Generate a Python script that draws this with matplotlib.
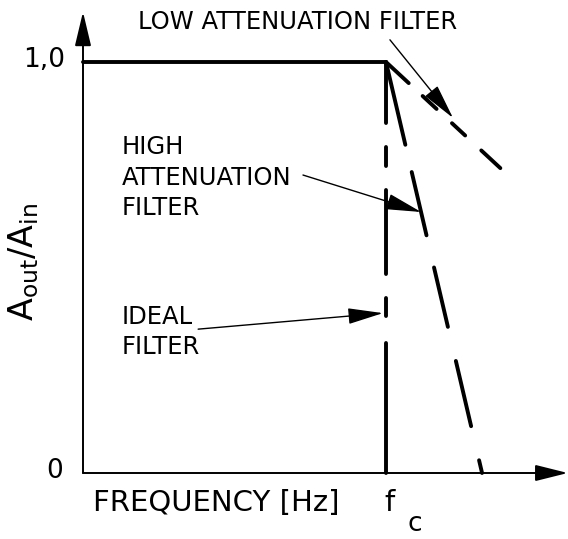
import matplotlib
matplotlib.use('Agg')
import matplotlib.pyplot as plt

plt.rcParams['font.family'] = ['DejaVu Sans']
plt.rcParams['lines.scale_dashes'] = False

# ---- data (normalised: f_c = 1, A_out/A_in = 1) ----
ideal_pass_x = [0.0, 1.0]
ideal_pass_y = [1.0, 1.0]
ideal_edge_x = [1.0, 1.0]
ideal_edge_y = [1.0, 0.0]
high_att_x = [1.0, 1.317]
high_att_y = [1.0, 0.0]
low_att_x = [1.0, 1.380]
low_att_y = [1.0, 0.740]
y_tick_values = [0.0, 1.0]
y_tick_labels = ['0', '1,0']
x_label = 'FREQUENCY [Hz]'

PX = 100 / 72.0  # pixels per point


def dash(seq_px, lw_px):
    # round caps add lw to each dash; compensate
    out = []
    for i, v in enumerate(seq_px):
        if i % 2 == 0:
            out.append(max(v - lw_px, 0.5) / PX)
        else:
            out.append((v + lw_px) / PX)
    return (0, out)


fig = plt.figure(figsize=(5.68, 5.39), dpi=100)
ax = fig.add_axes([0, 0, 1, 1])
ax.set_xlim(-83 / 303, 485 / 303)
ax.set_ylim(-66 / 411, 473 / 411)
ax.axis('off')

K = 'black'
lw = 2.8

# axes with arrows
ax.annotate('', xy=(0, 1.122), xytext=(0, 0),
            arrowprops=dict(arrowstyle='-|>,head_length=2.1,head_width=0.5',
                            mutation_scale=10, lw=1.4, color=K, shrinkA=0, shrinkB=0))
ax.annotate('', xy=(1.60, 0), xytext=(0, 0),
            arrowprops=dict(arrowstyle='-|>,head_length=2.0,head_width=0.5',
                            mutation_scale=10, lw=1.4, color=K, shrinkA=0, shrinkB=0))

# ideal filter
ax.plot(ideal_pass_x, ideal_pass_y, color=K, lw=lw, solid_capstyle='round')
ax.plot(ideal_edge_x, ideal_edge_y, color=K, lw=lw, dash_capstyle='round',
        linestyle=dash([65, 20, 23, 20, 88, 20, 22, 23, 140, 10], 4))
# high attenuation
ax.plot(high_att_x, high_att_y, color=K, lw=lw, dash_capstyle='round',
        linestyle=dash([89, 24, 69, 29, 65, 31, 71, 31, 20, 10], 4))
# low attenuation
ax.plot(low_att_x, low_att_y, color=K, lw=lw, dash_capstyle='round',
        linestyle=dash([35, 15, 23, 17, 22, 18, 30, 10], 4))

# tick labels
ax.text(-0.129, y_tick_values[1] + 0.005, y_tick_labels[1], fontsize=19, ha='center', va='center')
ax.text(-0.092, y_tick_values[0] + 0.005, y_tick_labels[0], fontsize=19, ha='center', va='center')

# axis labels
ax.text(0.033, -0.073, x_label, fontsize=21, ha='left', va='center')
ax.text(1.013, -0.073, 'f', fontsize=21, ha='center', va='center')
ax.text(1.096, -0.125, 'c', fontsize=19, ha='center', va='center')
ax.text(-0.195, 0.513, r'$\mathregular{A_{out}/A_{in}}$', fontsize=24, rotation=90,
        ha='center', va='center')

# annotations
fs = 17.5
ax.text(0.182, 1.097, 'LOW ATTENUATION FILTER', fontsize=fs, ha='left', va='center')
ax.text(0.129, 0.793, 'HIGH', fontsize=fs, ha='left', va='center')
ax.text(0.129, 0.718, 'ATTENUATION', fontsize=fs, ha='left', va='center')
ax.text(0.129, 0.645, 'FILTER', fontsize=fs, ha='left', va='center')
ax.text(0.129, 0.380, 'IDEAL', fontsize=fs, ha='left', va='center')
ax.text(0.129, 0.307, 'FILTER', fontsize=fs, ha='left', va='center')

aprops = dict(arrowstyle='-|>,head_length=2.2,head_width=0.5', mutation_scale=10,
              lw=1.0, color=K, shrinkA=0, shrinkB=0)
ax.annotate('', xy=(1.221, 0.864), xytext=(1.013, 1.054), arrowprops=aprops)
ax.annotate('', xy=(1.116, 0.635), xytext=(0.726, 0.725), arrowprops=aprops)
ax.annotate('', xy=(0.990, 0.389), xytext=(0.380, 0.350), arrowprops=aprops)

fig.savefig('out.png', dpi=100)
